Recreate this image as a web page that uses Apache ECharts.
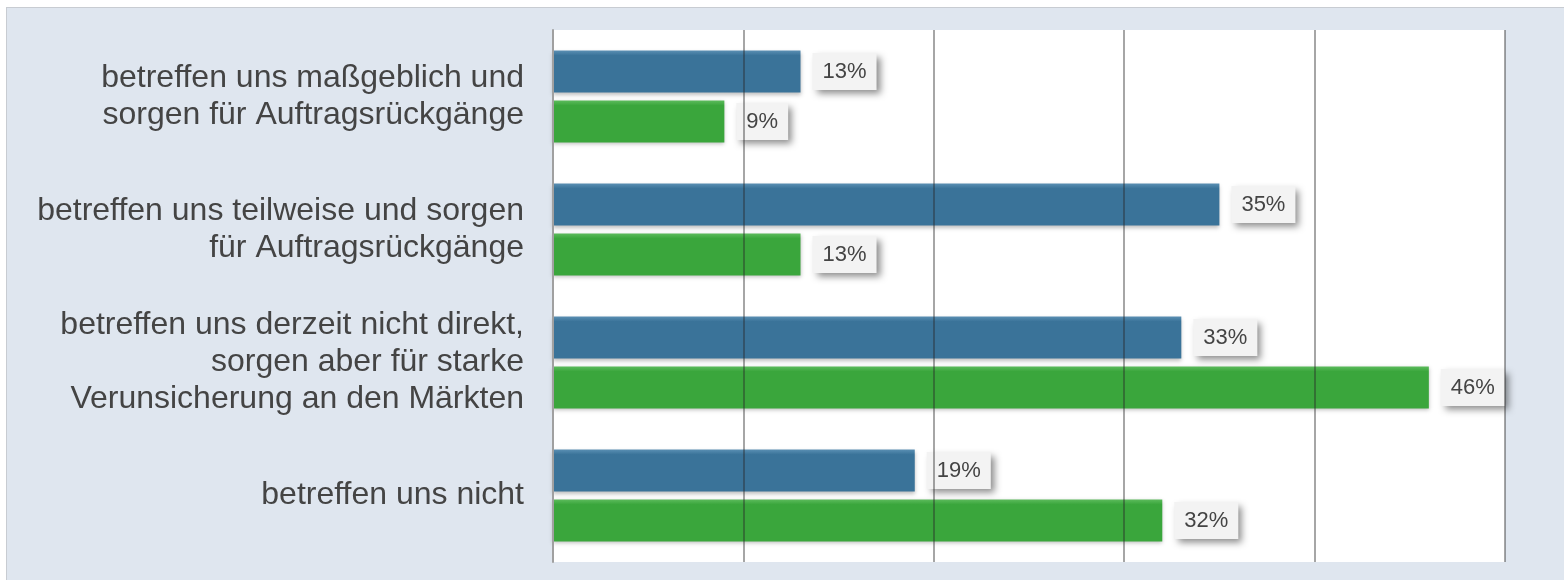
<!DOCTYPE html>
<html><head><meta charset="utf-8">
<script src="https://cdn.jsdelivr.net/npm/echarts@6/dist/echarts.min.js"></script>
<style>
html,body{margin:0;padding:0;background:#fff;}
#panel{position:absolute;left:6px;top:7px;width:1558px;height:573px;background:#dfe6ef;border-top:1px solid #c8ccd2;border-left:1px solid #c8ccd2;box-sizing:border-box;}
#chart{position:absolute;left:0;top:0;width:1564px;height:580px;}
</style></head>
<body>
<div id="panel"></div>
<div id="chart"></div>
<script>
const categories = [
  "betreffen uns maßgeblich und\nsorgen für Auftragsrückgänge",
  "betreffen uns teilweise und sorgen\nfür Auftragsrückgänge",
  "betreffen uns derzeit nicht direkt,\nsorgen aber für starke\nVerunsicherung an den Märkten",
  "betreffen uns nicht"
];
const blueValues = [13, 35, 33, 19];
const greenValues = [9, 13, 46, 32];

const chart = echarts.init(document.getElementById('chart'), null, {renderer:'canvas'});
function lbl(){
  return {
    show:true, position:'right', distance:12,
    formatter: p => p.value + '%',
    fontFamily:'Liberation Sans, Arial, sans-serif', fontSize:22, color:'#444',
    backgroundColor:'#f3f3f3', padding:[8,10,7,10],
    shadowColor:'rgba(0,0,0,0.45)', shadowBlur:7, shadowOffsetX:4, shadowOffsetY:4
  };
}
function grad(top, main){
  return new echarts.graphic.LinearGradient(0,0,0,1,[
    {offset:0,color:top},{offset:0.12,color:main},{offset:1,color:main}
  ]);
}
chart.setOption({
  animation:false,
  grid:{left:553, top:30, width:952, height:532, containLabel:false, backgroundColor:'#fff', show:true, borderWidth:0},
  xAxis:{type:'value', min:0, max:50, interval:10, z:3,
    axisLabel:{show:false}, axisLine:{show:false}, axisTick:{show:false},
    splitLine:{show:true, lineStyle:{color:'rgba(40,40,40,0.55)', width:1.5}}},
  yAxis:{type:'category', data:categories, inverse:true, z:4,
    axisTick:{show:false},
    axisLine:{show:true, lineStyle:{color:'#a0a0a0', width:2}},
    axisLabel:{margin:29, fontFamily:'Liberation Sans, Arial, sans-serif', fontSize:32, color:'#444', lineHeight:37, align:'right',
      backgroundColor:'rgba(0,0,0,0)', padding:[7,0,0,0]}},
  series:[
    {type:'bar', data:blueValues, barWidth:42, barGap:'19%',
      itemStyle:{color:grad('#5a8fb3','#3a7399'), shadowColor:'rgba(0,0,0,0.25)', shadowBlur:4, shadowOffsetY:2},
      label:lbl()},
    {type:'bar', data:greenValues, barWidth:42, barGap:'19%',
      itemStyle:{color:grad('#5cbb5c','#3aa63c'), shadowColor:'rgba(0,0,0,0.25)', shadowBlur:4, shadowOffsetY:2},
      label:lbl()}
  ]
});
</script>
</body></html>
